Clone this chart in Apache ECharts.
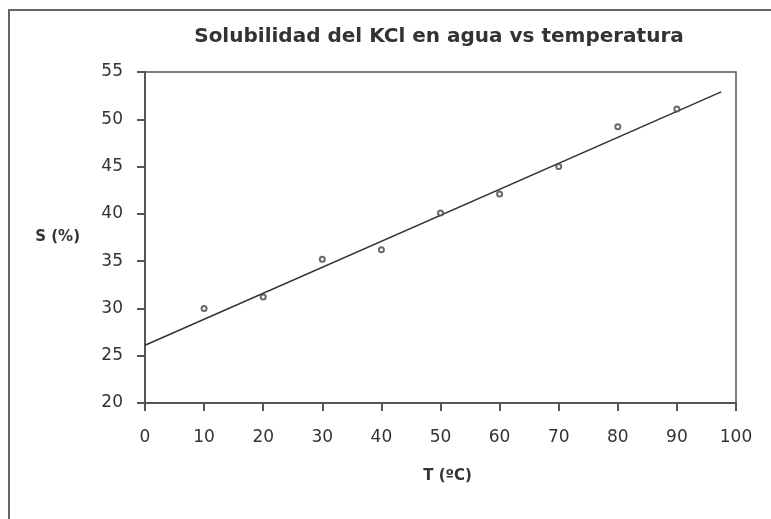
<!DOCTYPE html>
<html>
<head>
<meta charset="utf-8">
<script src="https://cdn.jsdelivr.net/npm/echarts@6/dist/echarts.min.js"></script>
<style>
  html, body { margin: 0; padding: 0; background: #fff; }
  #chart { width: 771px; height: 519px; }
</style>
</head>
<body>
<div id="chart"></div>
<script>
// datos medidos
var temps = [10, 20, 30, 40, 50, 60, 70, 80, 90];
var solub = [30, 31.2, 35.2, 36.2, 40.1, 42.1, 45, 49.2, 51.1];
// recta de tendencia (extremos)
var trendX = [0, 97.5];
var trendY = [26.1, 52.9];

var chart = echarts.init(document.getElementById('chart'));

var txt = '#333';
var ln = '#555';

var option = {
  animation: false,
  backgroundColor: '#fff',
  title: {
    text: 'Solubilidad del KCl en agua vs temperatura',
    left: 434,
    textAlign: 'center',
    top: 22,
    textStyle: { fontFamily: 'DejaVu Sans', fontSize: 20, fontWeight: 'bold', color: txt }
  },
  graphic: [{
    type: 'rect',
    shape: { x: 9, y: 10, width: 900, height: 700 },
    style: { fill: 'none', stroke: '#666', lineWidth: 2 },
    silent: true
  }],
  grid: {
    left: 145, top: 72, right: 35, bottom: 116,
    show: true, borderColor: ln, borderWidth: 1.5, backgroundColor: 'transparent'
  },
  xAxis: {
    type: 'value',
    min: 0, max: 100, interval: 10,
    name: 'T (ºC)',
    nameLocation: 'middle',
    nameGap: 66,
    nameTextStyle: { fontFamily: 'DejaVu Sans', fontSize: 15, fontWeight: 'bold', color: txt, padding: [0, 0, 0, 14] },
    axisLine: { lineStyle: { color: ln, width: 2 } },
    axisTick: { length: 8, lineStyle: { color: ln, width: 2 } },
    axisLabel: { fontFamily: 'DejaVu Sans', fontSize: 17, color: txt, margin: 26 },
    splitLine: { show: false }
  },
  yAxis: {
    type: 'value',
    min: 20, max: 55, interval: 5,
    name: 'S (%)',
    nameLocation: 'middle',
    nameRotate: 0,
    nameGap: 65,
    nameTextStyle: { fontFamily: 'DejaVu Sans', fontSize: 15, fontWeight: 'bold', color: txt },
    axisLine: { show: true, lineStyle: { color: ln, width: 2 } },
    axisTick: { show: true, length: 8, lineStyle: { color: ln, width: 2 } },
    axisLabel: { fontFamily: 'DejaVu Sans', fontSize: 17, color: txt, margin: 22 },
    splitLine: { show: false }
  },
  series: [
    {
      type: 'line',
      data: trendX.map(function (x, i) { return [x, trendY[i]]; }),
      showSymbol: false,
      symbol: 'none',
      lineStyle: { color: '#333', width: 1.5 },
      z: 2
    },
    {
      type: 'scatter',
      data: temps.map(function (t, i) { return [t, solub[i]]; }),
      symbol: 'emptyCircle',
      symbolSize: 5,
      itemStyle: { color: '#444', borderColor: '#444', borderWidth: 1.1 },
      z: 3
    }
  ]
};

option && chart.setOption(option);
</script>
</body>
</html>
